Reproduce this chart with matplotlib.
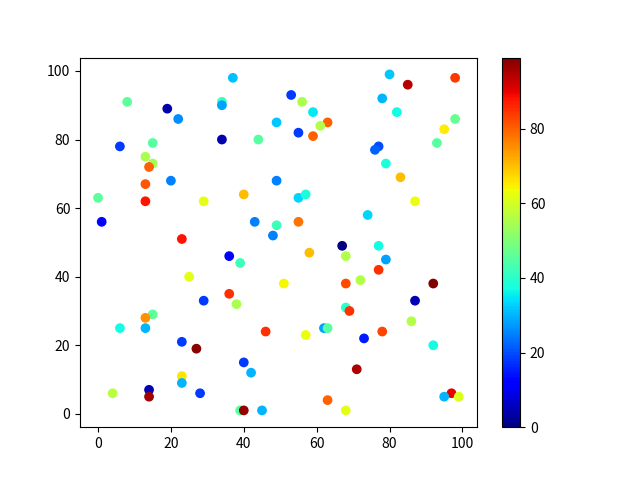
import numpy as np
import matplotlib
matplotlib.use('Agg')
import matplotlib.pyplot as plt

plt.rcParams['font.family'] = ['Noto Sans CJK SC', 'DejaVu Sans']

# points (x, y, colour value)
x = [8, 19, 22, 6, 15, 13, 15, 14, 13, 20,
     0, 1, 13, 29, 23, 25, 37, 34, 34, 53,
     56, 59, 49, 63, 61, 55, 59, 34, 44, 49,
     80, 85, 98, 78, 82, 98, 95, 93, 77, 76,
     79, 83, 29, 40, 55, 57, 43, 49, 55, 48,
     67, 36, 39, 58, 68, 51, 36, 38, 68, 68,
     87, 74, 77, 79, 77, 72, 92, 87, 15, 13,
     6, 13, 23, 27, 23, 23, 4, 14, 14, 28,
     46, 57, 62, 63, 69, 40, 42, 39, 40, 45,
     63, 68, 86, 78, 73, 92, 71, 97, 95, 99]
y = [91, 89, 86, 78, 79, 75, 73, 72, 67, 68,
     63, 56, 62, 62, 51, 40, 98, 91, 90, 93,
     91, 88, 85, 85, 84, 82, 81, 80, 80, 68,
     99, 96, 98, 92, 88, 86, 83, 79, 78, 77,
     73, 69, 33, 64, 63, 64, 56, 55, 56, 52,
     49, 46, 44, 47, 46, 38, 35, 32, 38, 31,
     62, 58, 49, 45, 42, 39, 38, 33, 29, 28,
     25, 25, 21, 19, 11, 9, 6, 7, 5, 6,
     24, 23, 25, 25, 30, 15, 12, 1, 1, 1,
     4, 1, 27, 24, 22, 20, 13, 6, 5, 5]
c = [46, 4, 26, 18, 45, 55, 54, 80, 81, 25,
     46, 12, 88, 62, 88, 62, 31, 41, 28, 18,
     55, 35, 32, 80, 56, 18, 80, 4, 45, 25,
     32, 94, 84, 30, 37, 47, 65, 45, 20, 22,
     38, 70, 18, 70, 33, 38, 25, 42, 78, 25,
     0, 12, 42, 70, 56, 64, 85, 55, 82, 40,
     63, 33, 37, 28, 85, 56, 99, 5, 46, 75,
     37, 30, 18, 98, 66, 30, 57, 5, 96, 18,
     85, 63, 28, 45, 85, 18, 30, 45, 97, 30,
     80, 62, 56, 83, 15, 37, 95, 90, 30, 61]

plt.scatter(x, y, c=c, cmap='jet')
plt.colorbar()
plt.savefig('out.png')
